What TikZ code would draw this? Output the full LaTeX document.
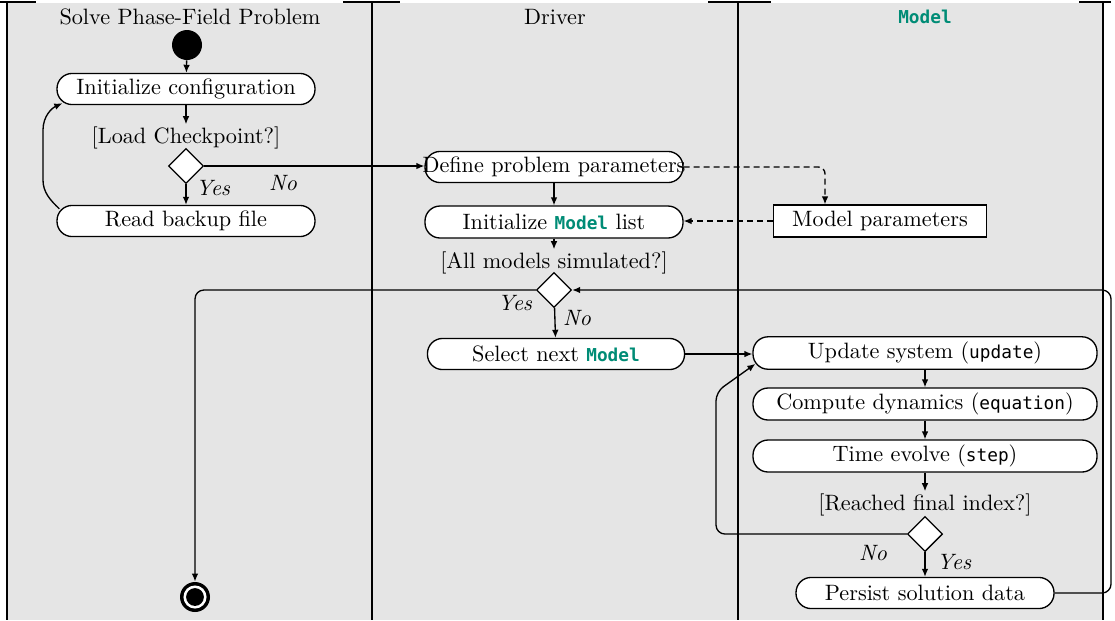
\documentclass[tikz,border=0pt]{standalone}
\usepackage{fontspec}
\newfontfamily\codefont{DejaVu Sans Mono}[Scale=0.8]
\usetikzlibrary{shapes.geometric,arrows.meta}
\definecolor{tealc}{RGB}{0,140,118}
\newcommand\pxu{0.45pt}
\newcommand\mdl{\textcolor{tealc}{\codefont\bfseries Model}}
\newcommand\cod[1]{{\codefont #1}}
\begin{document}
\begin{tikzpicture}[x=\pxu,y=-\pxu,
  act/.style={draw, fill=white, rounded corners=6.8pt, line width=0.6pt, minimum height=14pt, inner sep=0pt},
  obj/.style={draw, fill=white, line width=0.6pt, minimum height=14.4pt, minimum width=95.9pt, inner sep=0pt},
  dec/.style={draw, fill=white, diamond, aspect=1, line width=0.6pt, minimum width=15.8pt, minimum height=15.8pt, inner sep=0pt},
  guard/.style={inner sep=1pt},
  lbl/.style={font=\itshape, inner sep=0pt},
  arr/.style={line width=0.6pt, -{Latex[length=3.6pt,width=3pt]}},
  dsh/.style={arr, dash pattern=on 2.7pt off 1.8pt},
  lane/.style={line width=0.7pt},
  topbar/.style={line width=1pt}]
\useasboundingbox (0,0) rectangle (1115,620);
% lanes
\fill[black!10] (7,3) rectangle (1103,620);
\draw[lane] (7,2) -- (7,620);
\draw[lane] (372,2) -- (372,620);
\draw[lane] (738,2) -- (738,620);
\draw[lane] (1103,2) -- (1103,620);
\draw[topbar] (0,2) -- (36,2);
\draw[topbar] (343,2) -- (400,2);
\draw[topbar] (708,2) -- (771,2);
\draw[topbar] (1079,2) -- (1111,2);
\node (t1) at (190,17) {Solve Phase-Field Problem};
\node (t2) at (555,17) {Driver};
\node (t3) at (925,17) {\mdl};
% lane 1
\node[circle, fill=black, minimum size=13.5pt, inner sep=0pt] (start) at (187,45) {};
\node[act, minimum width=116.1pt] (ic) at (186,89) {\makebox[0pt]{Initialize configuration}};
\node[guard] (lc) at (186,138) {[Load Checkpoint?]};
\node[dec] (d1) at (186,166) {};
\node[act, minimum width=116.1pt] (rb) at (186,221) {\makebox[0pt]{Read backup file}};
\node[lbl] (yes1) at (213,188) {Yes};
\node[lbl] (no1) at (283,183) {No};
\node[circle, fill=black, minimum size=13.5pt, inner sep=0pt] (end) at (195,597) {};
\fill[white] (end) circle (5.2pt);
\fill[black] (end) circle (4.0pt);
% lane 2
\node[act, minimum width=116.1pt] (dp) at (554,167) {\makebox[0pt]{Define problem parameters}};
\node[act, minimum width=116.1pt, minimum height=14.4pt] (ml) at (554,222) {\makebox[0pt]{Initialize \mdl{} list}};
\node[guard] (ams) at (554,263) {[All models simulated?]};
\node[dec] (d2) at (554,290) {};
\node[lbl] (yes2) at (515,303) {Yes};
\node[lbl] (no2) at (577,318) {No};
\node[act, minimum width=115.7pt] (sn) at (556,354) {\makebox[0pt]{Select next \mdl}};
% lane 3
\node[obj] (mp) at (880,221) {Model parameters};
\node[act, minimum width=154.8pt, minimum height=14.6pt] (us) at (925,353) {\makebox[0pt]{Update system (\cod{update})}};
\node[act, minimum width=154.8pt, minimum height=14.4pt] (cd) at (925,404) {\makebox[0pt]{Compute dynamics (\cod{equation})}};
\node[act, minimum width=154.8pt, minimum height=14.4pt] (te) at (925,456) {\makebox[0pt]{Time evolve (\cod{step})}};
\node[guard] (rfi) at (925,505) {[Reached final index?]};
\node[dec] (d3) at (925,534) {};
\node[lbl] (no3) at (873,553) {No};
\node[lbl] (yes3) at (954,562) {Yes};
\node[act, minimum width=116.1pt] (ps) at (925,593) {\makebox[0pt]{Persist solution data}};
% connectors lane 1
\draw[arr] (start) -- (ic);
\draw[arr] (ic) -- (lc);
\draw[arr] (d1) -- (rb);
\draw[arr] ([shift={(3,4)}]rb.north west) .. controls (50,200) and (43,192) .. (43,180)
  -- (43,130) .. controls (43,116) and (52,108) .. ([shift={(6,-2)}]ic.south west);
\draw[arr] (d1.east) -- (d1.east -| dp.west);
% lane 2
\draw[arr] (dp) -- (ml);
\draw[arr] (ml) -- (ams);
\draw[arr] (d2) -- (sn);
\draw[arr, rounded corners=4pt] (d2.west) -| (end.north);
\draw[dsh, rounded corners=3pt] (dp.east) -| ([shift={(-55,0)}]mp.north);
\draw[dsh] (mp.west) -- (mp.west -| ml.east);
\draw[arr] (sn.east) -- (sn.east -| us.west);
% lane 3
\draw[arr] (us) -- (cd);
\draw[arr] (cd) -- (te);
\draw[arr] (te) -- (rfi);
\draw[arr] (d3) -- (ps);
\draw[arr, rounded corners=4pt] (d3.west) -- (716,534) -- (716,392) -- ([shift={(3,-6)}]us.south west);
\draw[arr, rounded corners=4pt] (ps.east) -- (1111,593) -- (1111,290) -- (d2.east);
\end{tikzpicture}
\end{document}
